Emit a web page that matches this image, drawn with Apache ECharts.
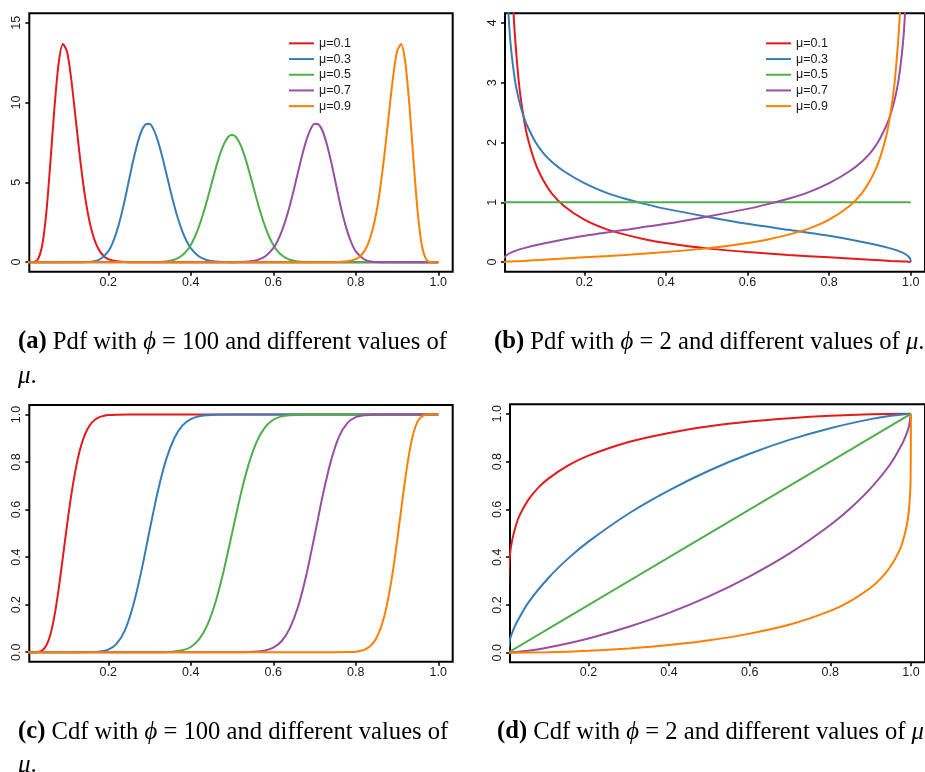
<!DOCTYPE html>
<html>
<head>
<meta charset="utf-8">
<script src="https://cdn.jsdelivr.net/npm/echarts@6/dist/echarts.min.js"></script>
<style>
  html, body { margin: 0; padding: 0; background: #fff; }
  #chart { width: 925px; height: 772px; }
</style>
</head>
<body>
<div id="chart"></div>
<script>
// Beta distribution, mean/precision form: legend labels and colours
const seriesNames = ['μ=0.1', 'μ=0.3', 'μ=0.5', 'μ=0.7', 'μ=0.9'];
const seriesColors = ['#E41A1C', '#377EB8', '#4DAF4A', '#984EA3', '#FF7F00'];

// Tick labels
const ticksX = [0.2, 0.4, 0.6, 0.8, 1.0];
const ticksPdfA = [0, 5, 10, 15];
const ticksPdfB = [0, 1, 2, 3, 4];
const ticksCdf = [0, 0.2, 0.4, 0.6, 0.8, 1.0];

// (a) density, phi = 100
const pdfA_x01 = [0, 0.02, 0.03, 0.04, 0.05, 0.06, 0.07, 0.08, 0.09, 0.10, 0.11, 0.12, 0.13, 0.14, 0.15, 0.16, 0.17, 0.18, 0.19, 0.20, 0.22, 0.25, 1.0];
const pdfA_y01 = [0, 0.01, 0.20, 1.08, 3.17, 6.38, 9.85, 12.54, 13.67, 13.20, 11.51, 9.22, 6.85, 4.77, 3.13, 1.95, 1.16, 0.66, 0.36, 0.19, 0.05, 0, 0];
const pdfA_x03 = [0, 0.14, 0.16, 0.18, 0.20, 0.21, 0.22, 0.23, 0.24, 0.25, 0.26, 0.27, 0.28, 0.29, 0.30, 0.31, 0.32, 0.33, 0.34, 0.35, 0.36, 0.37, 0.38, 0.39, 0.40, 0.42, 0.44, 0.46, 0.50, 1.0];
const pdfA_y03 = [0, 0, 0.03, 0.18, 0.68, 1.18, 1.88, 2.80, 3.90, 5.12, 6.32, 7.38, 8.19, 8.63, 8.67, 8.31, 7.62, 6.70, 5.64, 4.56, 3.54, 2.64, 1.90, 1.31, 0.88, 0.35, 0.12, 0.04, 0, 0];
const pdfA_x05 = [0, 0.32, 0.34, 0.36, 0.37, 0.38, 0.39, 0.40, 0.41, 0.42, 0.43, 0.44, 0.45, 0.46, 0.47, 0.48, 0.49, 0.50, 0.51, 0.52, 0.53, 0.54, 0.55, 0.56, 0.57, 0.58, 0.59, 0.60, 0.61, 0.62, 0.63, 0.64, 0.66, 0.68, 1.0];
const pdfA_y05 = [0, 0.01, 0.04, 0.15, 0.26, 0.44, 0.70, 1.08, 1.59, 2.24, 3.03, 3.92, 4.88, 5.83, 6.69, 7.38, 7.83, 7.98, 7.83, 7.38, 6.69, 5.83, 4.88, 3.92, 3.03, 2.24, 1.59, 1.08, 0.70, 0.44, 0.26, 0.15, 0.04, 0.01, 0];
const pdfA_x07 = [0, 0.50, 0.54, 0.56, 0.58, 0.60, 0.61, 0.62, 0.63, 0.64, 0.65, 0.66, 0.67, 0.68, 0.69, 0.70, 0.71, 0.72, 0.73, 0.74, 0.75, 0.76, 0.77, 0.78, 0.79, 0.80, 0.82, 0.84, 0.86, 1.0];
const pdfA_y07 = [0, 0, 0.04, 0.12, 0.35, 0.88, 1.31, 1.90, 2.64, 3.54, 4.56, 5.64, 6.70, 7.62, 8.31, 8.67, 8.63, 8.19, 7.38, 6.32, 5.12, 3.90, 2.80, 1.88, 1.18, 0.68, 0.18, 0.03, 0, 0];
const pdfA_x09 = [0, 0.75, 0.78, 0.80, 0.81, 0.82, 0.83, 0.84, 0.85, 0.86, 0.87, 0.88, 0.89, 0.90, 0.91, 0.92, 0.93, 0.94, 0.95, 0.96, 0.97, 0.98, 1.0];
const pdfA_y09 = [0, 0, 0.05, 0.19, 0.36, 0.66, 1.16, 1.95, 3.13, 4.77, 6.85, 9.22, 11.51, 13.20, 13.67, 12.54, 9.85, 6.38, 3.17, 1.08, 0.20, 0.01, 0];

// (b) density, phi = 2
const pdfB_x01 = [0.015, 0.02, 0.025, 0.03, 0.04, 0.05, 0.06, 0.08, 0.10, 0.12, 0.15, 0.20, 0.25, 0.30, 0.35, 0.40, 0.50, 0.60, 0.70, 0.80, 0.90, 0.95, 0.99, 1.0];
const pdfB_y01 = [6.65, 5.26, 4.38, 3.77, 2.97, 2.47, 2.11, 1.65, 1.36, 1.15, 0.94, 0.71, 0.56, 0.46, 0.38, 0.32, 0.23, 0.17, 0.12, 0.08, 0.04, 0.02, 0.01, 0];
const pdfB_x03 = [0.005, 0.01, 0.015, 0.02, 0.03, 0.04, 0.05, 0.06, 0.08, 0.10, 0.12, 0.15, 0.20, 0.25, 0.30, 0.35, 0.40, 0.50, 0.60, 0.70, 0.80, 0.90, 0.95, 0.98, 0.99, 0.995, 0.999, 1.0];
const pdfB_y03 = [6.29, 4.76, 4.04, 3.59, 3.04, 2.70, 2.46, 2.28, 2.01, 1.82, 1.68, 1.52, 1.32, 1.17, 1.06, 0.97, 0.89, 0.76, 0.64, 0.54, 0.44, 0.31, 0.23, 0.16, 0.12, 0.09, 0.05, 0];
const pdfB_x05 = [0, 1.0];
const pdfB_y05 = [1, 1];
const pdfB_x07 = [0, 0.001, 0.005, 0.01, 0.02, 0.05, 0.10, 0.20, 0.30, 0.40, 0.50, 0.60, 0.65, 0.70, 0.75, 0.80, 0.85, 0.88, 0.90, 0.92, 0.94, 0.95, 0.96, 0.97, 0.98, 0.985, 0.99, 0.995];
const pdfB_y07 = [0, 0.05, 0.09, 0.12, 0.16, 0.23, 0.31, 0.44, 0.54, 0.64, 0.76, 0.89, 0.97, 1.06, 1.17, 1.32, 1.52, 1.68, 1.82, 2.01, 2.28, 2.46, 2.70, 3.04, 3.59, 4.04, 4.76, 6.29];
const pdfB_x09 = [0, 0.01, 0.05, 0.10, 0.20, 0.30, 0.40, 0.50, 0.60, 0.65, 0.70, 0.75, 0.80, 0.85, 0.88, 0.90, 0.92, 0.94, 0.95, 0.96, 0.97, 0.975, 0.98, 0.985];
const pdfB_y09 = [0, 0.01, 0.02, 0.04, 0.08, 0.12, 0.17, 0.23, 0.32, 0.38, 0.46, 0.56, 0.71, 0.94, 1.15, 1.36, 1.65, 2.11, 2.47, 2.97, 3.77, 4.38, 5.26, 6.65];

// (c) distribution function, phi = 100
const cdfC_x01 = [0, 0.02, 0.03, 0.04, 0.05, 0.06, 0.07, 0.08, 0.09, 0.10, 0.11, 0.12, 0.13, 0.14, 0.15, 0.16, 0.17, 0.18, 0.19, 0.20, 0.22, 0.25, 1.0];
const cdfC_y01 = [0, 0, 0.001, 0.008, 0.029, 0.077, 0.158, 0.270, 0.401, 0.535, 0.659, 0.762, 0.843, 0.901, 0.940, 0.966, 0.981, 0.990, 0.995, 0.998, 0.9995, 1, 1];
const cdfC_x03 = [0, 0.16, 0.18, 0.20, 0.22, 0.24, 0.26, 0.28, 0.30, 0.32, 0.34, 0.36, 0.38, 0.40, 0.42, 0.44, 0.46, 0.50, 1.0];
const cdfC_y03 = [0, 0.0005, 0.003, 0.011, 0.035, 0.091, 0.194, 0.340, 0.511, 0.676, 0.809, 0.900, 0.954, 0.981, 0.993, 0.997, 0.999, 1, 1];
const cdfC_x05 = [0, 0.32, 0.34, 0.36, 0.38, 0.40, 0.42, 0.44, 0.46, 0.48, 0.50, 0.52, 0.54, 0.56, 0.58, 0.60, 0.62, 0.64, 0.66, 0.68, 1.0];
const cdfC_y05 = [0, 0, 0.001, 0.003, 0.008, 0.022, 0.054, 0.114, 0.211, 0.344, 0.5, 0.656, 0.789, 0.886, 0.946, 0.978, 0.992, 0.997, 0.999, 1, 1];
const cdfC_x07 = [0, 0.50, 0.54, 0.56, 0.58, 0.60, 0.62, 0.64, 0.66, 0.68, 0.70, 0.72, 0.74, 0.76, 0.78, 0.80, 0.82, 0.84, 0.86, 1.0];
const cdfC_y07 = [0, 0, 0.001, 0.003, 0.007, 0.019, 0.046, 0.100, 0.191, 0.324, 0.489, 0.660, 0.806, 0.909, 0.965, 0.989, 0.997, 0.9995, 1, 1];
const cdfC_x09 = [0, 0.75, 0.78, 0.80, 0.81, 0.82, 0.83, 0.84, 0.85, 0.86, 0.87, 0.88, 0.89, 0.90, 0.91, 0.92, 0.93, 0.94, 0.95, 0.96, 0.97, 0.98, 1.0];
const cdfC_y09 = [0, 0, 0.0005, 0.002, 0.005, 0.010, 0.019, 0.034, 0.060, 0.099, 0.157, 0.238, 0.341, 0.465, 0.599, 0.730, 0.842, 0.923, 0.971, 0.992, 0.999, 1, 1];

// (d) distribution function, phi = 2
const cdfD_x01 = [0, 0.001, 0.005, 0.01, 0.02, 0.03, 0.05, 0.075, 0.10, 0.15, 0.20, 0.30, 0.40, 0.50, 0.60, 0.70, 0.80, 0.90, 1.0];
const cdfD_y01 = [0, 0.294, 0.405, 0.465, 0.533, 0.578, 0.638, 0.690, 0.728, 0.784, 0.825, 0.882, 0.920, 0.948, 0.968, 0.982, 0.992, 0.998, 1];
const cdfD_x03 = [0, 0.005, 0.01, 0.02, 0.05, 0.10, 0.15, 0.20, 0.30, 0.40, 0.50, 0.60, 0.70, 0.80, 0.90, 0.95, 0.99, 1.0];
const cdfD_y03 = [0, 0.053, 0.080, 0.120, 0.208, 0.312, 0.395, 0.465, 0.583, 0.680, 0.763, 0.833, 0.892, 0.940, 0.978, 0.992, 0.999, 1];
const cdfD_x05 = [0, 1.0];
const cdfD_y05 = [0, 1];
const cdfD_x07 = [0, 0.01, 0.05, 0.10, 0.20, 0.30, 0.40, 0.50, 0.60, 0.70, 0.80, 0.85, 0.90, 0.95, 0.98, 0.99, 0.995, 1.0];
const cdfD_y07 = [0, 0.001, 0.008, 0.022, 0.060, 0.109, 0.167, 0.237, 0.320, 0.417, 0.535, 0.605, 0.688, 0.792, 0.880, 0.920, 0.947, 1];
const cdfD_x09 = [0, 0.10, 0.20, 0.30, 0.40, 0.50, 0.60, 0.70, 0.80, 0.85, 0.90, 0.925, 0.95, 0.97, 0.98, 0.99, 0.995, 0.999, 1.0];
const cdfD_y09 = [0, 0.002, 0.008, 0.018, 0.032, 0.052, 0.080, 0.118, 0.175, 0.216, 0.272, 0.310, 0.362, 0.422, 0.467, 0.535, 0.595, 0.706, 1];

// Sub-figure captions
const captionA = ['(a)', ' Pdf with ', 'ϕ', ' = 100 and different values of'];
const captionB = ['(b)', ' Pdf with ', 'ϕ', ' = 2 and different values of ', 'μ', '.'];
const captionC = ['(c)', ' Cdf with ', 'ϕ', ' = 100 and different values of'];
const captionD = ['(d)', ' Cdf with ', 'ϕ', ' = 2 and different values of ', 'μ', '.'];

const panels = [
  { xs: [pdfA_x01, pdfA_x03, pdfA_x05, pdfA_x07, pdfA_x09], ys: [pdfA_y01, pdfA_y03, pdfA_y05, pdfA_y07, pdfA_y09] },
  { xs: [pdfB_x01, pdfB_x03, pdfB_x05, pdfB_x07, pdfB_x09], ys: [pdfB_y01, pdfB_y03, pdfB_y05, pdfB_y07, pdfB_y09] },
  { xs: [cdfC_x01, cdfC_x03, cdfC_x05, cdfC_x07, cdfC_x09], ys: [cdfC_y01, cdfC_y03, cdfC_y05, cdfC_y07, cdfC_y09] },
  { xs: [cdfD_x01, cdfD_x03, cdfD_x05, cdfD_x07, cdfD_x09], ys: [cdfD_y01, cdfD_y03, cdfD_y05, cdfD_y07, cdfD_y09] }
];

const layout = [
  { grid: { left: 29.3, top: 13.3, width: 423.4, height: 258.4 }, x: [0.0085, 1.035], y: [-0.6, 15.6], yTicks: ticksPdfA, yDigits: 0 },
  { grid: { left: 505, top: 13.3, width: 423.4, height: 258.4 }, x: [0.0055, 1.035], y: [-0.16, 4.16], yTicks: ticksPdfB, yDigits: 0 },
  { grid: { left: 29.3, top: 405, width: 423.4, height: 256.7 }, x: [0.0085, 1.035], y: [-0.04, 1.04], yTicks: ticksCdf, yDigits: 1 },
  { grid: { left: 510, top: 404.3, width: 423.4, height: 258 }, x: [0.0054, 1.035], y: [-0.04, 1.04], yTicks: ticksCdf, yDigits: 1 }
];

const sansFont = '"Liberation Sans", Arial, Helvetica, sans-serif';
const serifFont = '"Liberation Serif", "Times New Roman", "DejaVu Serif", serif';
const labelStyle = { fontFamily: sansFont, fontSize: 12.5, color: '#1a1a1a' };
const tickStyle = { color: '#000', width: 1.5 };

const grids = [], xAxes = [], yAxes = [], series = [];
layout.forEach((p, i) => {
  grids.push(Object.assign({ show: true, borderColor: '#000', borderWidth: 2, backgroundColor: 'transparent' }, p.grid));
  xAxes.push({
    type: 'value', gridIndex: i, min: p.x[0], max: p.x[1], position: 'bottom',
    axisLine: { show: false, onZero: false }, splitLine: { show: false },
    axisTick: { show: true, length: 4, lineStyle: tickStyle, customValues: ticksX },
    axisLabel: Object.assign({ customValues: ticksX, margin: 4, formatter: v => v.toFixed(1) }, labelStyle)
  });
  yAxes.push({
    type: 'value', gridIndex: i, min: p.y[0], max: p.y[1], position: 'left',
    axisLine: { show: false, onZero: false }, splitLine: { show: false },
    axisTick: { show: true, length: 4, lineStyle: tickStyle, customValues: p.yTicks },
    axisLabel: Object.assign({ customValues: p.yTicks, rotate: 90, margin: 6, formatter: v => v.toFixed(p.yDigits) }, labelStyle)
  });
  panels[i].xs.forEach((xs, k) => {
    const ys = panels[i].ys[k];
    series.push({
      type: 'line', name: seriesNames[k], xAxisIndex: i, yAxisIndex: i,
      data: xs.map((x, j) => [x, ys[j]]),
      showSymbol: false, symbol: 'none', smooth: 0.25, clip: true,
      color: seriesColors[k],
      lineStyle: { width: 2, color: seriesColors[k] },
      emphasis: { disabled: true }, animation: false, z: 2 + k
    });
  });
});

function legendAt(left) {
  return {
    left: left, top: 30.5, orient: 'vertical', icon: 'rect',
    itemWidth: 25, itemHeight: 2, itemGap: 0, selectedMode: false,
    data: seriesNames,
    textStyle: { fontFamily: sansFont, fontSize: 12.5, color: '#1a1a1a', lineHeight: 15.7, padding: [0, 0, 0, 0] }
  };
}

const capSize = 25;
const rich = {
  b: { fontFamily: serifFont, fontSize: capSize, fontWeight: 'bold', fill: '#000' },
  i: { fontFamily: serifFont, fontSize: capSize, fontStyle: 'italic', fill: '#000' }
};
function captionText(parts) {
  return parts.map((s, idx) => {
    if (idx === 0) return '{b|' + s + '}';
    if (s === 'ϕ' || s === 'μ') return '{i|' + s + '}';
    return s;
  }).join('');
}
function caption(parts, x, y) {
  return {
    type: 'text', x: x, y: y, scaleX: 0.985, silent: true,
    style: { text: captionText(parts), rich: rich, fontFamily: serifFont, fontSize: capSize, fill: '#000', verticalAlign: 'middle' }
  };
}
function mu(x, y) {
  return {
    type: 'text', x: x, y: y, silent: true,
    style: { text: '{i|μ}.', rich: rich, fontFamily: serifFont, fontSize: capSize, fill: '#000', verticalAlign: 'middle' }
  };
}

const chart = echarts.init(document.getElementById('chart'), null, { renderer: 'canvas' });
chart.setOption({
  animation: false,
  backgroundColor: '#fff',
  grid: grids,
  xAxis: xAxes,
  yAxis: yAxes,
  legend: [legendAt(284), legendAt(761)],
  series: series,
  graphic: [
    caption(captionA, 18, 342),
    mu(18, 376),
    caption(captionB, 494, 342),
    caption(captionC, 18, 732),
    mu(18, 765),
    caption(captionD, 497, 732)
  ]
});
</script>
</body>
</html>
